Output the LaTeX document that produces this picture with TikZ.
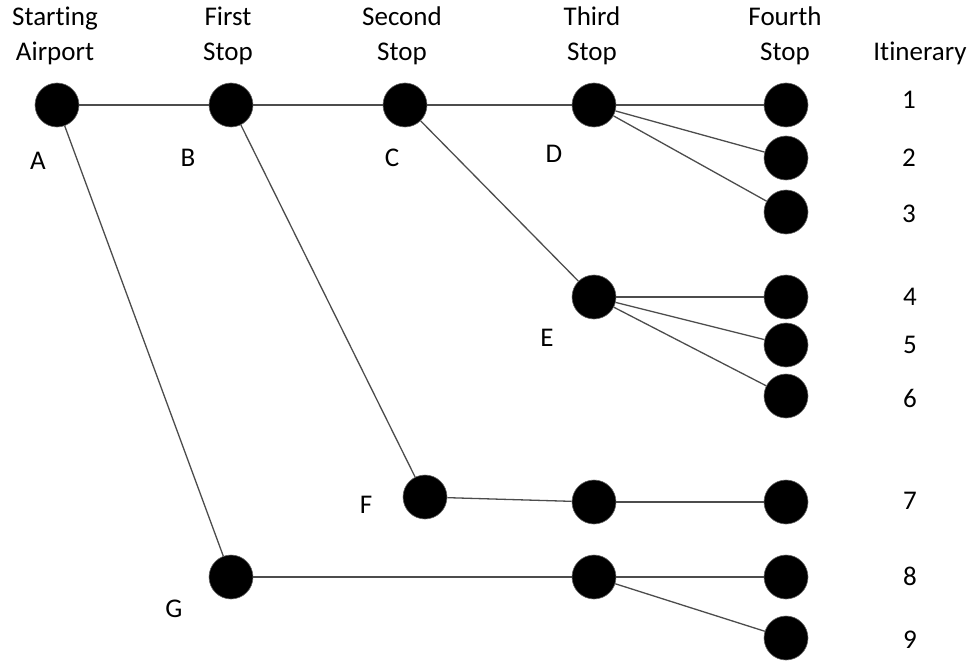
\documentclass[tikz,border=0pt]{standalone}
\usepackage{fontspec}
\setmainfont[Ligatures=NoCommon]{Carlito}
\begin{document}
\begin{tikzpicture}[x=1pt,y=-1pt,
  stopdot/.style={circle,fill=black,draw=black!60,line width=0.6pt,minimum size=44pt,inner sep=0pt},
  conn/.style={draw=black!70,line width=1.3pt},
  hdr/.style={font=\fontsize{27}{35}\selectfont,align=center,anchor=base,inner sep=0pt},
  lbl/.style={font=\fontsize{27}{30}\selectfont,inner sep=0pt}]
\useasboundingbox (0,0) rectangle (976,663);
% headers
\node[hdr] (h0) at (55,61) {Starting\\Airport};
\node[hdr] (h1) at (228,61) {First\\Stop};
\node[hdr] (h2) at (402,61) {Second\\Stop};
\node[hdr] (h3) at (592,61) {Third\\Stop};
\node[hdr] (h4) at (785,61) {Fourth\\Stop};
\node[hdr] (h5) at (920,61) {Itinerary};
% nodes
\node[stopdot] (A) at (57,105) {};
\node[stopdot] (B) at (231,105) {};
\node[stopdot] (C) at (405,105) {};
\node[stopdot] (D) at (594,105) {};
\node[stopdot] (E) at (594,297) {};
\node[stopdot] (F) at (425,497) {};
\node[stopdot] (G) at (231,577) {};
\node[stopdot] (T7) at (594,502) {};
\node[stopdot] (T8) at (594,577) {};
\node[stopdot] (S1) at (786,105) {};
\node[stopdot] (S2) at (786,158) {};
\node[stopdot] (S3) at (786,212) {};
\node[stopdot] (S4) at (786,297) {};
\node[stopdot] (S5) at (786,345) {};
\node[stopdot] (S6) at (786,396) {};
\node[stopdot] (S7) at (786,502) {};
\node[stopdot] (S8) at (786,577) {};
\node[stopdot] (S9) at (786,638) {};
% letter labels
\node[lbl] (lA) at (38,161) {A};
\node[lbl] (lB) at (188,158) {B};
\node[lbl] (lC) at (392,158) {C};
\node[lbl] (lD) at (554,154) {D};
\node[lbl] (lE) at (547,338) {E};
\node[lbl] (lF) at (366,505) {F};
\node[lbl] (lG) at (174,609) {G};
% itinerary numbers
\node[lbl] (n1) at (909,100) {1};
\node[lbl] (n2) at (909,158) {2};
\node[lbl] (n3) at (909,214) {3};
\node[lbl] (n4) at (910,297) {4};
\node[lbl] (n5) at (910,345) {5};
\node[lbl] (n6) at (910,398) {6};
\node[lbl] (n7) at (910,501) {7};
\node[lbl] (n8) at (910,576) {8};
\node[lbl] (n9) at (910,640) {9};
% connectors
\path[conn] (A) -- (B);
\path[conn] (B) -- (C);
\path[conn] (C) -- (D);
\path[conn] (D) -- (S1);
\path[conn] (D) -- (S2);
\path[conn] (D) -- (S3);
\path[conn] (C) -- (E);
\path[conn] (E) -- (S4);
\path[conn] (E) -- (S5);
\path[conn] (E) -- (S6);
\path[conn] (B) -- (F);
\path[conn] (F) -- (T7);
\path[conn] (T7) -- (S7);
\path[conn] (A) -- (G);
\path[conn] (G) -- (T8);
\path[conn] (T8) -- (S8);
\path[conn] (T8) -- (S9);
\end{tikzpicture}
\end{document}
